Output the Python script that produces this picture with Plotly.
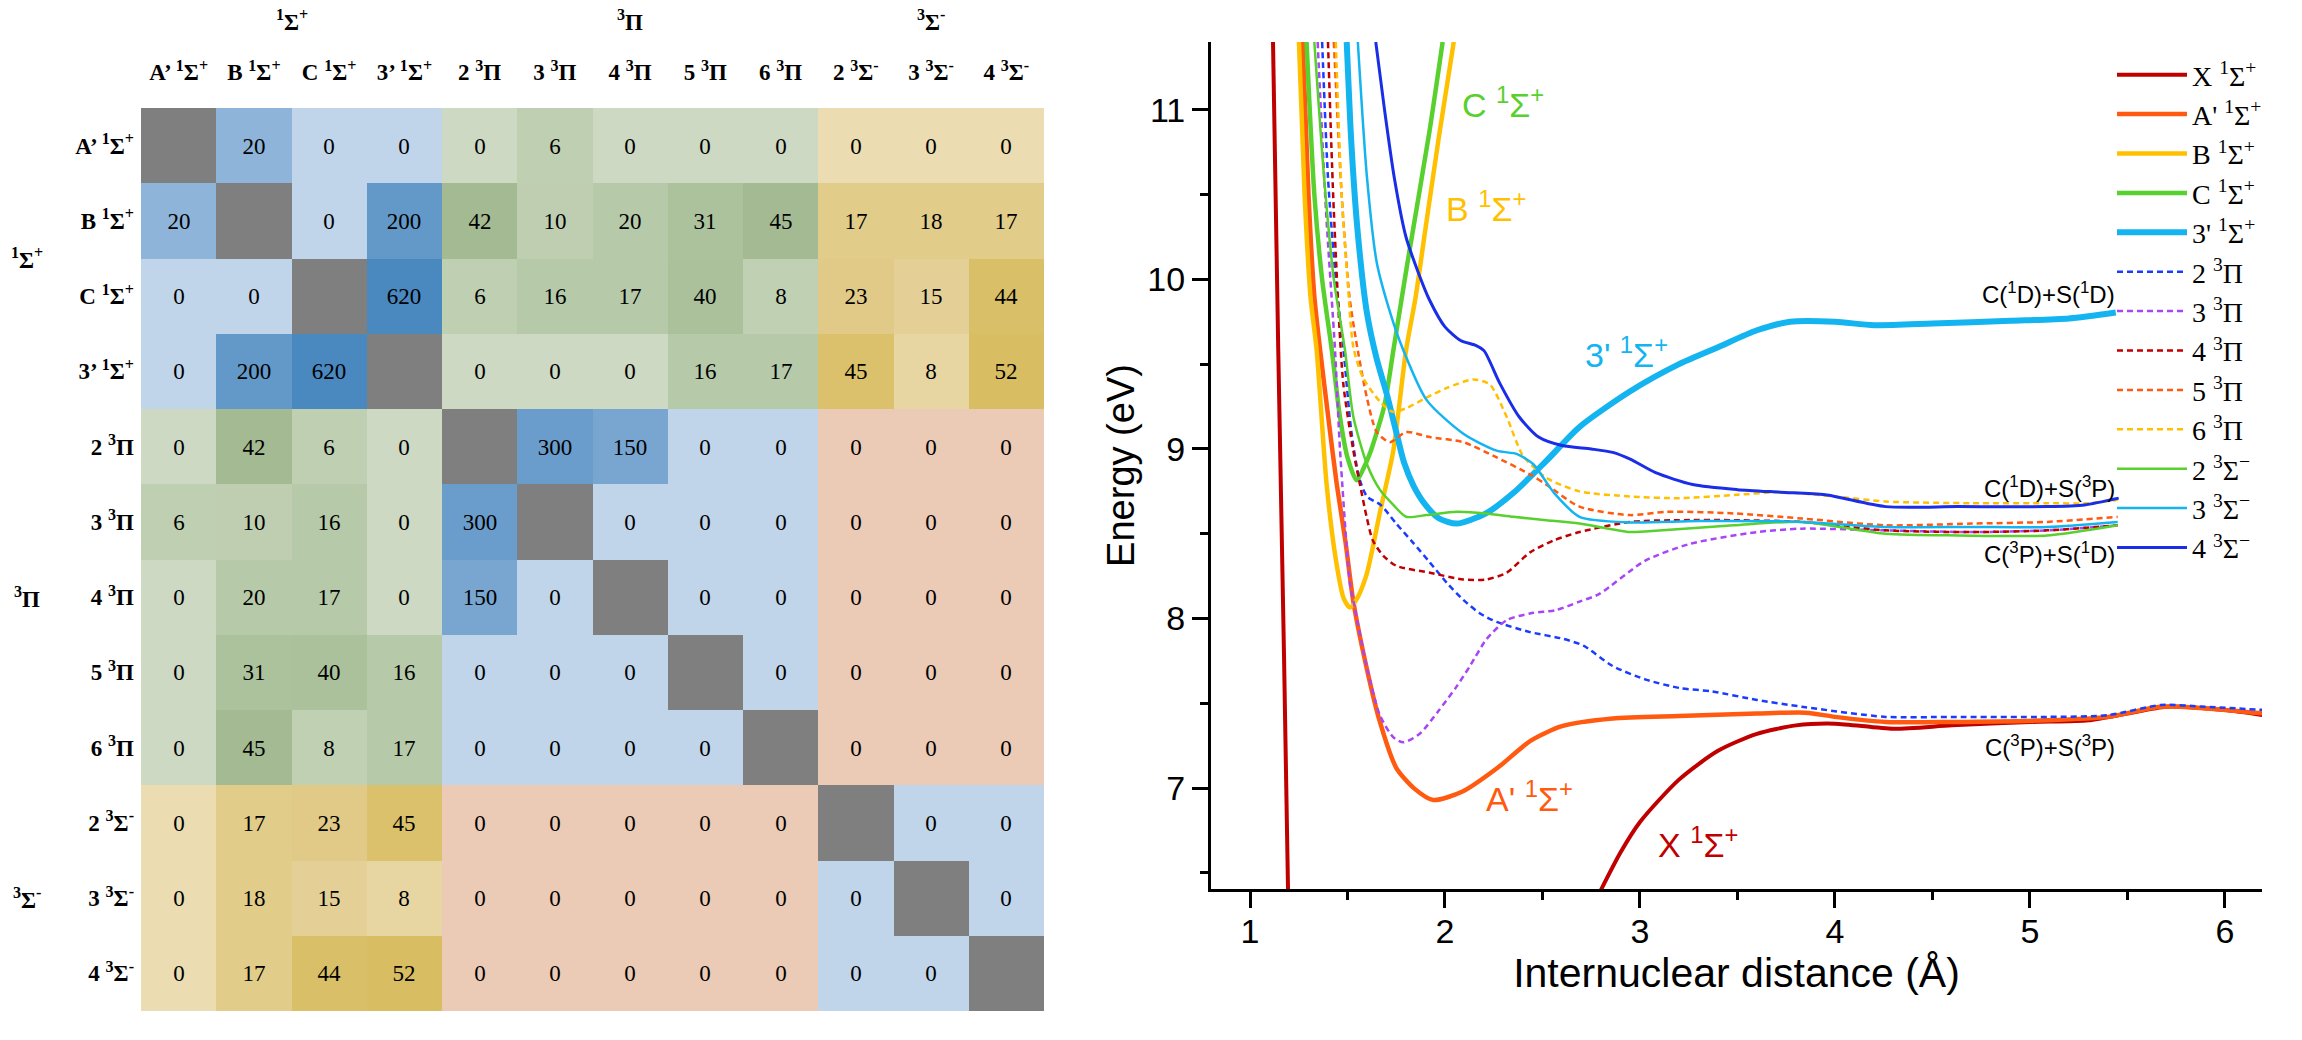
import plotly.graph_objects as go

W, H = 2302, 1040

# ---------------- coupling table data ----------------
state_labels = ["A’ <sup>1</sup>Σ<sup>+</sup>", "B <sup>1</sup>Σ<sup>+</sup>", "C <sup>1</sup>Σ<sup>+</sup>",
                "3’ <sup>1</sup>Σ<sup>+</sup>", "2 <sup>3</sup>Π", "3 <sup>3</sup>Π", "4 <sup>3</sup>Π",
                "5 <sup>3</sup>Π", "6 <sup>3</sup>Π", "2 <sup>3</sup>Σ<sup>-</sup>",
                "3 <sup>3</sup>Σ<sup>-</sup>", "4 <sup>3</sup>Σ<sup>-</sup>"]
state_group = [0, 0, 0, 0, 1, 1, 1, 1, 1, 2, 2, 2]
group_labels = ["<sup>1</sup>Σ<sup>+</sup>", "<sup>3</sup>Π", "<sup>3</sup>Σ<sup>-</sup>"]
group_centers = [1.5, 6, 10]

coupling = [
    [None, 20, 0, 0, 0, 6, 0, 0, 0, 0, 0, 0],
    [20, None, 0, 200, 42, 10, 20, 31, 45, 17, 18, 17],
    [0, 0, None, 620, 6, 16, 17, 40, 8, 23, 15, 44],
    [0, 200, 620, None, 0, 0, 0, 16, 17, 45, 8, 52],
    [0, 42, 6, 0, None, 300, 150, 0, 0, 0, 0, 0],
    [6, 10, 16, 0, 300, None, 0, 0, 0, 0, 0, 0],
    [0, 20, 17, 0, 150, 0, None, 0, 0, 0, 0, 0],
    [0, 31, 40, 16, 0, 0, 0, None, 0, 0, 0, 0],
    [0, 45, 8, 17, 0, 0, 0, 0, None, 0, 0, 0],
    [0, 17, 23, 45, 0, 0, 0, 0, 0, None, 0, 0],
    [0, 18, 15, 8, 0, 0, 0, 0, 0, 0, None, 0],
    [0, 17, 44, 52, 0, 0, 0, 0, 0, 0, 0, None],
]

# ---------------- potential energy curves (r in Å, E in eV) ----------------
r_X = [1.118, 1.145, 1.174, 1.195, None, 2.80, 2.90, 3.00, 3.20, 3.40, 3.60, 3.80, 4.00, 4.30, 4.60, 5.00, 5.30, 5.50, 5.70, 6.00, 6.20]
e_X = [11.40, 9.58, 7.81, 6.40, None, 6.40, 6.62, 6.80, 7.05, 7.22, 7.32, 7.37, 7.38, 7.35, 7.37, 7.39, 7.40, 7.44, 7.48, 7.46, 7.43]

r_A = [1.27, 1.30, 1.33, 1.36, 1.40, 1.444, 1.49, 1.53, 1.60, 1.664, 1.75, 1.84, 1.94, 2.09, 2.27, 2.44, 2.60, 2.86, 3.20, 3.60, 3.85, 4.00, 4.26, 4.60, 5.09, 5.40, 5.67, 5.90, 6.20]
e_A = [11.40, 10.50, 9.90, 9.58, 9.20, 8.80, 8.45, 8.10, 7.70, 7.40, 7.12, 7.00, 6.93, 6.98, 7.12, 7.28, 7.365, 7.41, 7.425, 7.44, 7.445, 7.42, 7.39, 7.39, 7.40, 7.42, 7.48, 7.47, 7.44]

r_B = [1.251, 1.28, 1.31, 1.342, 1.393, 1.44, 1.48, 1.513, 1.55, 1.598, 1.667, 1.735, 1.80, 1.85, 1.90, 1.97, 2.045]
e_B = [11.40, 10.50, 9.90, 9.58, 8.79, 8.35, 8.12, 8.065, 8.12, 8.26, 8.63, 8.99, 9.58, 9.90, 10.30, 10.85, 11.40]

r_C = [1.29, 1.33, 1.37, 1.42, 1.46, 1.50, 1.547, 1.58, 1.62, 1.69, 1.735, 1.805, 1.92, 1.988]
e_C = [11.40, 10.50, 10.00, 9.58, 9.20, 8.95, 8.815, 8.88, 8.99, 9.26, 9.58, 10.08, 10.87, 11.40]

r_3p = [1.496, 1.52, 1.553, 1.60, 1.65, 1.70, 1.75, 1.79, 1.84, 1.90, 1.97, 2.06, 2.21, 2.35, 2.52, 2.69, 2.95, 3.20, 3.40, 3.60, 3.77, 4.00, 4.20, 4.50, 4.90, 5.20, 5.44]
e_3p = [11.40, 10.80, 10.27, 9.80, 9.53, 9.33, 9.10, 8.92, 8.78, 8.67, 8.59, 8.56, 8.62, 8.74, 8.93, 9.13, 9.34, 9.50, 9.60, 9.70, 9.75, 9.75, 9.73, 9.74, 9.756, 9.77, 9.805]

r_2Pi = [1.37, 1.40, 1.44, 1.48, 1.52, 1.56, 1.60, 1.67, 1.75, 1.838, 1.923, 2.01, 2.094, 2.18, 2.265, 2.436, 2.607, 2.71, 2.86, 3.03, 3.205, 3.37, 3.60, 3.83, 4.26, 4.60, 5.09, 5.40, 5.67, 5.90, 6.21]
e_2Pi = [11.40, 10.60, 10.00, 9.58, 9.10, 8.83, 8.72, 8.67, 8.56, 8.445, 8.33, 8.21, 8.11, 8.03, 7.98, 7.92, 7.88, 7.84, 7.72, 7.64, 7.59, 7.57, 7.52, 7.48, 7.42, 7.42, 7.42, 7.43, 7.49, 7.48, 7.46]

r_3Pi = [1.347, 1.39, 1.436, 1.462, 1.513, 1.53, 1.60, 1.666, 1.735, 1.787, 1.87, 1.97, 2.06, 2.128, 2.214, 2.316, 2.436, 2.57, 2.69, 2.79, 3.025, 3.255, 3.60, 3.83, 4.26, 4.70, 5.09, 5.45]
e_3Pi = [11.40, 10.40, 9.584, 8.99, 8.20, 8.105, 7.71, 7.43, 7.30, 7.27, 7.32, 7.46, 7.60, 7.72, 7.88, 7.99, 8.03, 8.05, 8.10, 8.144, 8.34, 8.44, 8.51, 8.53, 8.52, 8.51, 8.52, 8.55]

r_4Pi = [1.40, 1.43, 1.478, 1.53, 1.564, 1.598, 1.63, 1.684, 1.752, 1.923, 2.094, 2.21, 2.316, 2.436, 2.556, 2.69, 2.95, 3.20, 3.48, 3.83, 4.26, 4.70, 5.09, 5.45]
e_4Pi = [11.40, 10.40, 9.39, 8.99, 8.79, 8.60, 8.46, 8.37, 8.31, 8.27, 8.23, 8.23, 8.27, 8.39, 8.46, 8.51, 8.57, 8.58, 8.58, 8.57, 8.52, 8.51, 8.52, 8.55]

r_5Pi = [1.43, 1.47, 1.51, 1.55, 1.60, 1.65, 1.718, 1.80, 1.923, 2.094, 2.265, 2.436, 2.52, 2.69, 2.95, 3.14, 3.48, 3.83, 4.26, 4.70, 5.09, 5.45]
e_5Pi = [11.40, 10.50, 9.90, 9.60, 9.30, 9.10, 9.04, 9.10, 9.07, 9.04, 8.95, 8.85, 8.79, 8.66, 8.61, 8.63, 8.62, 8.59, 8.55, 8.56, 8.57, 8.60]

r_6Pi = [1.44, 1.47, 1.50, 1.53, 1.58, 1.666, 1.73, 1.80, 1.90, 2.01, 2.145, 2.23, 2.316, 2.40, 2.52, 2.69, 2.95, 3.20, 3.50, 3.72, 4.00, 4.26, 4.70, 5.09, 5.30, 5.45]
e_6Pi = [11.40, 10.50, 10.00, 9.60, 9.42, 9.28, 9.22, 9.24, 9.30, 9.36, 9.41, 9.38, 9.19, 8.96, 8.83, 8.75, 8.72, 8.71, 8.73, 8.745, 8.72, 8.69, 8.68, 8.68, 8.68, 8.70]

r_2Sg = [1.33, 1.38, 1.43, 1.487, 1.53, 1.60, 1.666, 1.735, 1.80, 1.906, 2.06, 2.21, 2.35, 2.52, 2.69, 2.95, 3.025, 3.48, 3.83, 4.26, 4.63, 5.09, 5.45]
e_2Sg = [11.40, 10.60, 10.00, 9.584, 9.19, 8.91, 8.76, 8.67, 8.60, 8.61, 8.63, 8.62, 8.60, 8.58, 8.56, 8.51, 8.514, 8.55, 8.57, 8.50, 8.49, 8.49, 8.55]

r_3Sg = [1.553, 1.60, 1.65, 1.72, 1.786, 1.906, 2.094, 2.265, 2.37, 2.453, 2.56, 2.69, 2.95, 3.30, 3.83, 4.26, 4.70, 5.09, 5.45]
e_3Sg = [11.40, 10.60, 10.10, 9.80, 9.584, 9.288, 9.09, 8.99, 8.97, 8.91, 8.74, 8.60, 8.567, 8.575, 8.57, 8.54, 8.54, 8.54, 8.57]

r_4Sg = [1.645, 1.69, 1.74, 1.80, 1.86, 1.92, 2.00, 2.08, 2.16, 2.20, 2.28, 2.38, 2.48, 2.60, 2.75, 2.86, 2.95, 3.08, 3.27, 3.50, 3.72, 3.95, 4.26, 4.63, 5.09, 5.28, 5.455]
e_4Sg = [11.40, 11.00, 10.60, 10.25, 10.05, 9.88, 9.72, 9.64, 9.61, 9.58, 9.39, 9.19, 9.07, 9.02, 9.00, 8.98, 8.94, 8.86, 8.79, 8.76, 8.745, 8.73, 8.66, 8.66, 8.66, 8.67, 8.71]

curve_names = ["X <sup>1</sup>Σ<sup>+</sup>", "A' <sup>1</sup>Σ<sup>+</sup>", "B <sup>1</sup>Σ<sup>+</sup>",
               "C <sup>1</sup>Σ<sup>+</sup>", "3' <sup>1</sup>Σ<sup>+</sup>", "2 <sup>3</sup>Π", "3 <sup>3</sup>Π",
               "4 <sup>3</sup>Π", "5 <sup>3</sup>Π", "6 <sup>3</sup>Π", "2 <sup>3</sup>Σ<sup>−</sup>",
               "3 <sup>3</sup>Σ<sup>−</sup>", "4 <sup>3</sup>Σ<sup>−</sup>"]
curve_r = [r_X, r_A, r_B, r_C, r_3p, r_2Pi, r_3Pi, r_4Pi, r_5Pi, r_6Pi, r_2Sg, r_3Sg, r_4Sg]
curve_e = [e_X, e_A, e_B, e_C, e_3p, e_2Pi, e_3Pi, e_4Pi, e_5Pi, e_6Pi, e_2Sg, e_3Sg, e_4Sg]

# ---------------- styles ----------------
curve_colors = ["#C00000", "#FF5A0F", "#FFC000", "#58D02E", "#14B4F0", "#1A3CFF", "#A845F5",
                "#C00000", "#FF5A0F", "#FFC000", "#58D02E", "#14B4F0", "#1A2EE8"]
curve_widths = [4, 4.5, 4.5, 4.5, 6, 2.5, 2.5, 2.5, 2.5, 2.5, 2.5, 2.5, 3]
curve_dash = ["solid"] * 5 + ["6px,4px"] * 5 + ["solid"] * 3

diag_color = "#7F7F7F"
family_colors = {
    "blue": {0: "#C0D5EA", 20: "#8EB4D9", 150: "#79A6D1", 200: "#6399C8", 300: "#6A9DCC", 620: "#4A88C0"},
    "green": {0: "#CDD9C3", 6: "#BFCFB1", 8: "#C0D0B2", 10: "#BFCEB1", 16: "#B6CAA9", 17: "#B6CAA9",
              20: "#B6CAA9", 31: "#ACC29D", 40: "#AAC19B", 42: "#A3BA92", 45: "#A3BA92"},
    "yellow": {0: "#EBDCB1", 8: "#E8D6A2", 15: "#E4D096", 17: "#E2CC8A", 18: "#E2CC8A", 23: "#E1CA87",
               44: "#D9BF67", 45: "#DBC16B", 52: "#D8BD63"},
    "peach": {0: "#ECCBB6"},
}


def family(gi, gj):
    if gi == gj:
        return "blue"
    s = {gi, gj}
    if s == {0, 1}:
        return "green"
    if s == {0, 2}:
        return "yellow"
    return "peach"


palette = [diag_color]
zidx, ztext = [], []
for i, row in enumerate(coupling):
    zr, tr = [], []
    for j, v in enumerate(row):
        if v is None:
            c = diag_color
            tr.append("")
        else:
            c = family_colors[family(state_group[i], state_group[j])][v]
            tr.append(str(v))
        if c not in palette:
            palette.append(c)
        zr.append(palette.index(c))
    zidx.append(zr)
    ztext.append(tr)
N = len(palette)
colorscale = [[k / (N - 1), c] for k, c in enumerate(palette)]

fig = go.Figure()
fig.add_trace(go.Heatmap(
    z=zidx, x=list(range(12)), y=list(range(12)), text=ztext, texttemplate="%{text}",
    textfont=dict(family="Liberation Serif", size=23, color="black"),
    colorscale=colorscale, zmin=0, zmax=N - 1, showscale=False, hoverinfo="skip",
    xaxis="x", yaxis="y", showlegend=False))

for name, r, e, c, w, d in zip(curve_names, curve_r, curve_e, curve_colors, curve_widths, curve_dash):
    fig.add_trace(go.Scatter(
        x=r, y=e, mode="lines", name=name, xaxis="x2", yaxis="y2",
        line=dict(color=c, width=w, dash=d, shape="spline", smoothing=0.7),
        connectgaps=False, hoverinfo="skip"))

serif_bold = dict(family="Liberation Serif", size=23, color="black", weight="bold")
annotations = []
for lab, cpos in zip(group_labels, group_centers):
    annotations.append(dict(text=lab, x=cpos, xref="x", y=1 - 20 / H, yref="paper",
                            showarrow=False, font=serif_bold, xanchor="center", yanchor="middle"))
    annotations.append(dict(text=lab, x=27 / W, xref="paper", y=cpos, yref="y",
                            showarrow=False, font=serif_bold, xanchor="center", yanchor="middle"))

state_notes = [("C <sup>1</sup>Σ<sup>+</sup>", 2.077, 11.045, "#58D02E"),
               ("B <sup>1</sup>Σ<sup>+</sup>", 1.995, 10.43, "#FFC000"),
               ("3' <sup>1</sup>Σ<sup>+</sup>", 2.708, 9.566, "#14B4F0"),
               ("A' <sup>1</sup>Σ<sup>+</sup>", 2.20, 6.95, "#FF5A0F"),
               ("X <sup>1</sup>Σ<sup>+</sup>", 3.08, 6.68, "#C00000")]
for t, x, y, c in state_notes:
    annotations.append(dict(text=t, x=x, y=y, xref="x2", yref="y2", showarrow=False,
                            xanchor="left", yanchor="middle",
                            font=dict(family="Liberation Sans", size=34, color=c)))

limit_notes = [("C(<sup>1</sup>D)+S(<sup>1</sup>D)", 9.921), ("C(<sup>1</sup>D)+S(<sup>3</sup>P)", 8.773),
               ("C(<sup>3</sup>P)+S(<sup>1</sup>D)", 8.389), ("C(<sup>3</sup>P)+S(<sup>3</sup>P)", 7.25)]
for t, y in limit_notes:
    annotations.append(dict(text=t, x=5.446, y=y, xref="x2", yref="y2", showarrow=False,
                            xanchor="right", yanchor="middle",
                            font=dict(family="Liberation Sans", size=24, color="black")))

axis_font = dict(family="Liberation Sans", size=34, color="black")
fig.update_layout(
    width=W, height=H, margin=dict(l=0, r=0, t=0, b=0),
    paper_bgcolor="white", plot_bgcolor="white",
    xaxis=dict(domain=[141 / W, 1044 / W], range=[-0.5, 11.5], side="top", tickvals=list(range(12)),
               ticktext=state_labels, tickfont=serif_bold, showgrid=False, zeroline=False,
               showline=False, ticks="", anchor="y", ticklabelstandoff=22),
    yaxis=dict(domain=[29 / H, 932 / H], range=[11.5, -0.5], tickvals=list(range(12)),
               ticktext=state_labels, tickfont=serif_bold, showgrid=False, zeroline=False,
               showline=False, ticks="", anchor="x", ticklabelstandoff=6),
    xaxis2=dict(domain=[1211 / W, 2262 / W], range=[0.8, 6.19], anchor="y2", dtick=1, tick0=0,
                showgrid=False, zeroline=False, showline=True, linecolor="black", linewidth=3,
                ticks="outside", ticklen=16, tickwidth=3, tickcolor="black", tickfont=axis_font,
                ticklabelstandoff=-6,
                minor=dict(dtick=0.5, tick0=0, ticks="outside", ticklen=8, tickwidth=3, tickcolor="black"),
                title=dict(text="Internuclear distance (Å)",
                           font=dict(family="Liberation Sans", size=41, color="black"), standoff=0)),
    yaxis2=dict(domain=[151 / H, 998 / H], range=[6.405, 11.40], anchor="x2", dtick=1, tick0=0,
                showgrid=False, zeroline=False, showline=True, linecolor="black", linewidth=3,
                ticks="outside", ticklen=16, tickwidth=3, tickcolor="black", tickfont=axis_font,
                minor=dict(dtick=0.5, tick0=0, ticks="outside", ticklen=8, tickwidth=3, tickcolor="black"),
                title=dict(text="Energy (eV)",
                           font=dict(family="Liberation Sans", size=38, color="black"), standoff=2)),
    legend=dict(x=2112 / W, xanchor="left", y=1 - 50 / H, yanchor="top",
                font=dict(family="Liberation Serif", size=28, color="black"),
                bgcolor="rgba(0,0,0,0)", borderwidth=0, tracegroupgap=0, itemwidth=70),
    annotations=annotations,
)

fig.write_html("out.html")
